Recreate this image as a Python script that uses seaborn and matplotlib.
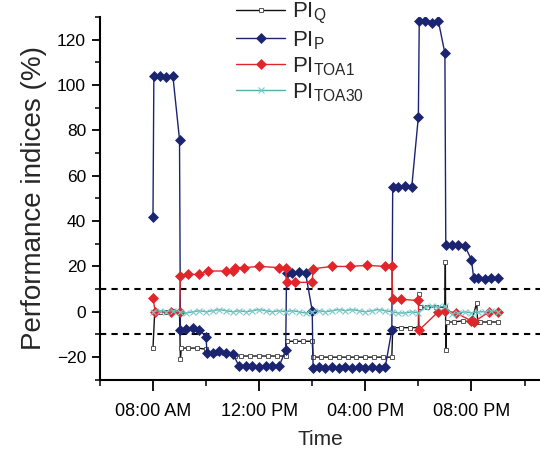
import pandas as pd
import matplotlib
matplotlib.use("Agg")
import matplotlib.pyplot as plt
import matplotlib.dates as mdates
from matplotlib.ticker import MultipleLocator
import seaborn as sns

# ---- data (time of day, index in %) ----
q_times = ["08:00", "08:04", "08:15", "08:30", "08:45", "09:00", "09:02", "09:04", "09:20", "09:40",
           "10:00", "10:02", "10:20", "10:40", "11:00", "11:05", "11:20", "11:40", "12:00", "12:20",
           "12:40", "13:00", "13:02", "13:20", "13:40", "14:00", "14:02", "14:20", "14:40", "15:00",
           "15:20", "15:40", "16:00", "16:20", "16:40", "17:00", "17:02", "17:20", "17:40", "18:00",
           "18:01", "18:03", "18:20", "18:40", "19:00", "19:01", "19:02", "19:04", "19:20", "19:40",
           "20:00", "20:12", "20:14", "20:20", "20:40", "21:00"]
q_vals = [-16, 0, 0, 0, 0.5, 0, -21, -16, -16, -16,
          -16.5, -18, -18, -18, -18.5, -19.5, -19.5, -19.5, -19.5, -19.5,
          -19.5, -19.5, -13, -13, -13, -13, -20, -20, -20, -20,
          -20, -20, -20, -20, -20, -20, -7, -7, -7, -7,
          8, 2, 2, 2, 2, 22, -17, -4.5, -4.5, -4,
          -4.5, 4, -4.5, -4.5, -4.5, -4.5]

p_times = ["08:00", "08:02", "08:15", "08:30", "08:45", "09:00", "09:02", "09:15", "09:30", "09:45",
           "10:00", "10:02", "10:15", "10:30", "10:45", "11:00", "11:15", "11:30", "11:45", "12:00",
           "12:15", "12:30", "12:45", "13:00", "13:02", "13:15", "13:30", "13:45", "14:00", "14:02",
           "14:15", "14:30", "14:45", "15:00", "15:15", "15:30", "15:45", "16:00", "16:15", "16:30",
           "16:45", "17:00", "17:02", "17:15", "17:30", "17:45", "18:00", "18:02", "18:15", "18:30",
           "18:45", "19:00", "19:02", "19:15", "19:30", "19:45", "20:00", "20:05", "20:15", "20:30",
           "20:45", "21:00"]
p_vals = [42, 104, 104, 103.5, 104, 76, -8, -7.5, -7, -8,
          -11, -18, -18, -17.5, -18, -18.5, -24, -24, -24, -24.5,
          -24, -24, -24, -17, 17, 17, 17.5, 17, 0.5, -25,
          -24.5, -25, -24.5, -25, -24.5, -25, -24.5, -25, -24.5, -25,
          -24.5, -8, 55, 55, 55.5, 55, 86, 128.5, 128.5, 127.5,
          128.5, 114, 29.5, 29.5, 29.5, 29, 23, 15, 15, 14.5,
          15, 15]

toa1_times = ["08:00", "08:05", "08:40", "09:00", "09:02", "09:20", "09:45", "10:05", "10:45", "11:00",
              "11:05", "11:25", "12:00", "12:45", "13:00", "13:02", "13:20", "14:00", "14:02", "14:45",
              "15:25", "16:05", "16:45", "17:00", "17:02", "17:20", "18:00", "18:02", "18:45", "19:00",
              "19:25", "20:00", "20:05", "20:40", "21:00"]
toa1_vals = [6, 0, 0, 0, 16, 16.5, 16.5, 18, 18, 18,
             19.5, 19.5, 20, 19.5, 19.5, 13, 13, 13, 19, 20,
             20, 20.5, 20, 20, 5.5, 5.5, 5, -8, 0, 0.5,
             -0.5, -4, -4.5, 0, 0]

toa30_times = pd.date_range("2000-01-01 08:00", "2000-01-01 21:00", freq="15min").strftime("%H:%M").tolist()
toa30_vals = [0, 0.5, 0, 0.5, 0, -0.5, 0, 0.5, 0, 0.5,
              1, 0.5, 0, 0.5, 0, 0.5, 1, 0.5, 0, 0.5,
              0, 0.5, 0, -0.5, 0, 0.5, 0, 0.5, 1, 0.5,
              1, 0.5, 0, 0.5, 1, 0.5, 0, -0.5, -0.5, 0,
              -0.5, 2, 2.5, 2, 2.5, -1, -0.5, 0, -0.5, 0,
              0, 0.5, 0]

labels = [r"PI$_{Q}$", r"PI$_{P}$", r"PI$_{TOA1}$", r"PI$_{TOA30}$"]


def to_dt(times):
    return pd.to_datetime(["2000-01-01 " + t for t in times])


sns.set_style("ticks")
plt.rcParams["font.family"] = ["Liberation Sans", "DejaVu Sans"]
plt.rcParams["mathtext.default"] = "regular"

fig = plt.figure(figsize=(5.4, 4.5), dpi=100)
ax = fig.add_axes([0.185, 0.156, 0.815, 0.806])

series = [
    (q_times, q_vals, dict(color="#111111", marker="s", markersize=3, mfc="white", mec="#555555", mew=0.7)),
    (p_times, p_vals, dict(color="#1b2470", marker="D", markersize=5.5, mfc="#1b2470", mec="#1b2470", mew=0.5)),
    (toa1_times, toa1_vals, dict(color="#e0262b", marker="D", markersize=5.5, mfc="#e0262b", mec="#e0262b", mew=0.5)),
    (toa30_times, toa30_vals, dict(color="#4fb0b0", marker="x", markersize=4, mec="#7cc8c8", mew=0.8)),
]

for (t, v, style), lab in zip(series, labels):
    sns.lineplot(x=to_dt(t), y=v, ax=ax, label=lab, estimator=None, sort=False, lw=1.0, **style)

# +-10 % band
for lvl in (10, -10):
    ax.axhline(lvl, color="black", lw=1.5, ls=(0, (3, 2.5)), zorder=1)

ax.set_xlim(pd.Timestamp("2000-01-01 06:00"), pd.Timestamp("2000-01-01 22:35"))
ax.set_ylim(-30, 130)
ax.xaxis.set_major_locator(mdates.HourLocator(byhour=[8, 12, 16, 20]))
ax.xaxis.set_minor_locator(mdates.HourLocator(byhour=[6, 10, 14, 18, 22]))
ax.xaxis.set_major_formatter(mdates.DateFormatter("%I:%M %p"))
ax.yaxis.set_major_locator(MultipleLocator(20))
ax.yaxis.set_minor_locator(MultipleLocator(10))

sns.despine(ax=ax)
for side in ("left", "bottom"):
    ax.spines[side].set_linewidth(1.5)
    ax.spines[side].set_color("black")
ax.tick_params(axis="x", which="major", length=8, width=1.3, labelsize=13, pad=9, colors="black")
ax.tick_params(axis="x", which="minor", length=4, width=1.3)
ax.tick_params(axis="y", which="major", length=6, width=1.3, labelsize=12.5, pad=4, colors="black")
ax.tick_params(axis="y", which="minor", length=3.5, width=1.3)

ax.set_xlabel("Time", fontsize=15, labelpad=7)
ax.set_ylabel("Performance indices (%)", fontsize=20, labelpad=7)

ax.legend(loc="upper left", bbox_to_anchor=(0.31, 1.045), frameon=False, fontsize=16,
          handlelength=2.2, handletextpad=0.3, labelspacing=0.15, borderpad=0, borderaxespad=0)

fig.savefig("out.png", dpi=100, facecolor="white")
